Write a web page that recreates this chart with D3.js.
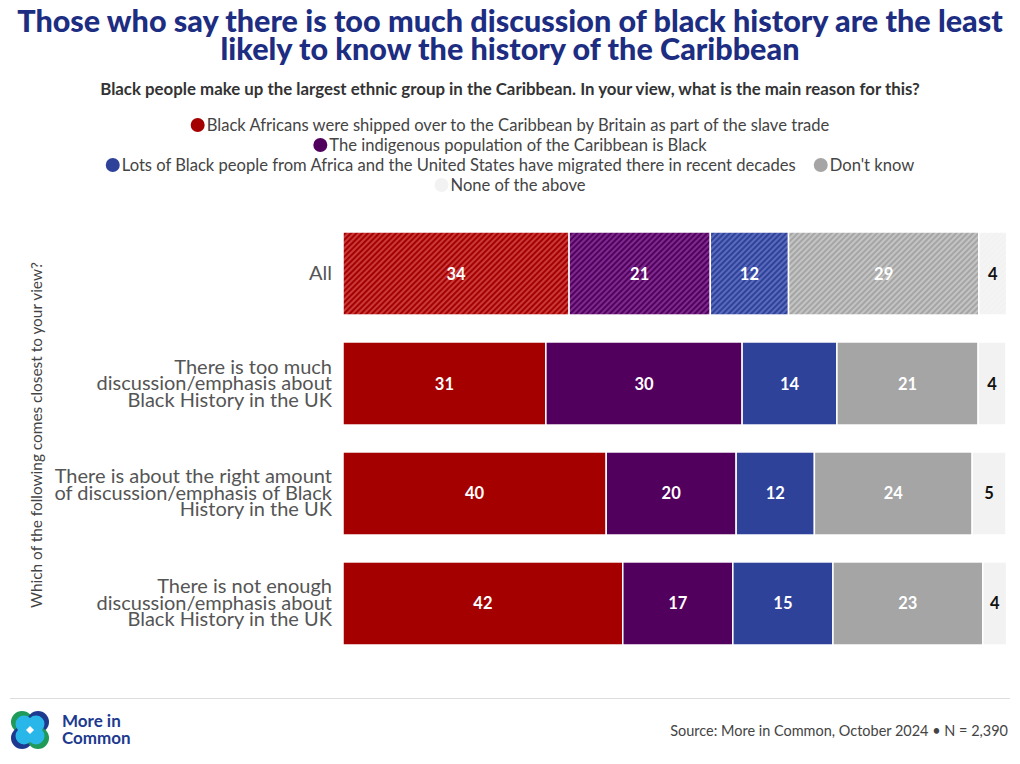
<!DOCTYPE html>
<html><head><meta charset="utf-8">
<script src="https://cdn.jsdelivr.net/npm/d3@7"></script>
<style>body{margin:0;background:#fff}svg{display:block}</style>
</head><body>
<svg id="c" width="1020" height="764"></svg>
<script>
const categories = ["All","There is too much discussion/emphasis about Black History in the UK","There is about the right amount of discussion/emphasis of Black History in the UK","There is not enough discussion/emphasis about Black History in the UK"];
const categoryLines = [["All"],["There is too much","discussion/emphasis about","Black History in the UK"],["There is about the right amount","of discussion/emphasis of Black","History in the UK"],["There is not enough","discussion/emphasis about","Black History in the UK"]];
const seriesNames = ["Black Africans were shipped over to the Caribbean by Britain as part of the slave trade","The indigenous population of the Caribbean is Black","Lots of Black people from Africa and the United States have migrated there in recent decades","Don't know","None of the above"];
const slaveTrade = [34.1,30.6,39.7,42.2];
const indigenous = [21.3,29.6,19.6,16.6];
const migrated = [11.8,14.3,11.8,15.1];
const dontKnow = [28.7,21.3,23.8,22.6];
const noneAbove = [4.2,4.2,5.1,3.6];
const seriesValues = [slaveTrade, indigenous, migrated, dontKnow, noneAbove];
const colors = ["#a50000","#52005e","#2f4299","#a5a5a5","#f2f2f2"];
const hatchBg = ["#c93a3a","#7d2c8e","#5a6bbd","#c4c4c4","#f4f4f4"];
const labelColors = ["#fff","#fff","#fff","#fff","#111"];
const title = ["Those who say there is too much discussion of black history are the least","likely to know the history of the Caribbean"];
const subtitle = "Black people make up the largest ethnic group in the Caribbean. In your view, what is the main reason for this?";
const yTitle = "Which of the following comes closest to your view?";
const source = "Source: More in Common, October 2024 \u2022 N = 2,390";

const svg = d3.select("#c");
const FONT = "Lato, 'Open Sans', sans-serif";
function fit(sel, w){ const n=sel.node(); const fs=parseFloat(sel.attr("font-size")); const m=n.getComputedTextLength(); sel.attr("font-size", fs*w/m); return fs*w/m; }

// defs patterns
const defs = svg.append("defs");
colors.forEach((c,i)=>{
  const p = defs.append("pattern").attr("id","h"+i).attr("patternUnits","userSpaceOnUse")
    .attr("width",4).attr("height",4).attr("patternTransform","rotate(45)");
  p.append("rect").attr("width",4).attr("height",4).attr("fill",hatchBg[i]);
  p.append("rect").attr("width",2).attr("height",4).attr("fill",c);
});

// title
let titleFs = 29;
title.forEach((t,i)=>{
  const s = svg.append("text").attr("x",510).attr("y",32+i*28).attr("text-anchor","middle")
    .attr("font-family",FONT).attr("font-weight",900).attr("font-size",titleFs).attr("fill","#1c2d82").text(t);
  if(i===0) titleFs = fit(s,986);
});
const st = svg.append("text").attr("x",510).attr("y",95).attr("text-anchor","middle")
  .attr("font-family",FONT).attr("font-weight",700).attr("font-size",14).attr("fill","#333").text(subtitle);
fit(st,820);

// legend
const legendRows = [[0],[1],[2,3],[4]];
const probe = svg.append("text").attr("font-family",FONT).attr("font-size",15).text(seriesNames[0]);
const legFs = 15*623/probe.node().getComputedTextLength();
probe.remove();
legendRows.forEach((row,ri)=>{
  const g = svg.append("g");
  let x=0;
  row.forEach((si,k)=>{
    if(k>0) x+=18;
    g.append("circle").attr("cx",x+7).attr("cy",0).attr("r",7).attr("fill",colors[si]);
    const t = g.append("text").attr("x",x+16).attr("y",5.5).attr("font-family",FONT).attr("font-size",legFs)
      .attr("fill","#444").text(seriesNames[si]);
    x += 16 + t.node().getComputedTextLength();
  });
  g.attr("transform",`translate(${510 - x/2},${125+ri*20})`);
});

// scales
const x = d3.scaleLinear().domain([0,100]).range([343,1006]);
const y = d3.scaleBand().domain(categories).range([232,645]).paddingInner(0.245).paddingOuter(0);

categories.forEach((cat,ci)=>{
  let acc=0;
  seriesValues.forEach((vals,si)=>{
    const v = vals[ci];
    const x0 = x(acc), x1 = x(acc+v);
    svg.append("rect").attr("x",x0).attr("y",y(cat)).attr("width",x1-x0).attr("height",y.bandwidth())
      .attr("fill", ci===0 ? `url(#h${si})` : colors[si]).attr("stroke","#fff").attr("stroke-width",1.5);
    svg.append("text").attr("x",(x0+x1)/2).attr("y",y(cat)+y.bandwidth()/2+6).attr("text-anchor","middle")
      .attr("font-family",FONT).attr("font-weight",700).attr("font-size",16.5).attr("fill",labelColors[si])
      .text(Math.round(v));
    acc+=v;
  });
  const lines = categoryLines[ci];
  const cy = y(cat)+y.bandwidth()/2;
  const t = svg.append("text").attr("text-anchor","end").attr("font-family",FONT).attr("font-weight",400)
    .attr("font-size",20).attr("fill","#555");
  lines.forEach((l,li)=>{
    t.append("tspan").attr("x",332).attr("y",cy + (li-(lines.length-1)/2)*16.5 + 6.5).text(l);
  });
});

// y title
const yt = svg.append("text").attr("transform","translate(42,435) rotate(-90)").attr("text-anchor","middle")
  .attr("font-family",FONT).attr("font-size",14).attr("fill","#444").text(yTitle);
fit(yt,346);

// footer
svg.append("line").attr("x1",10).attr("x2",1010).attr("y1",698.5).attr("y2",698.5).attr("stroke","#ddd");
const logo = svg.append("g").attr("transform","translate(30,730)");
[[-8,-8,"#1f9a59"],[8,-8,"#1e3a8f"],[-8,8,"#1e3a8f"],[8,8,"#1f9a59"]].forEach(d=>logo.append("circle").attr("cx",d[0]).attr("cy",d[1]).attr("r",11).attr("fill",d[2]));
[[-6,-6],[6,-6],[-6,6],[6,6]].forEach(d=>logo.append("circle").attr("cx",d[0]).attr("cy",d[1]).attr("r",8.5).attr("fill","#29b6e8"));
logo.append("path").attr("d","M0,-4L4,0L0,4L-4,0Z").attr("fill","#fff");
const brand = svg.append("text").attr("font-family",FONT).attr("font-weight",700).attr("font-size",17).attr("fill","#1d3a8f");
["More in","Common"].forEach((t,i)=>brand.append("tspan").attr("x",62).attr("y",727+i*17).text(t));
const src = svg.append("text").attr("x",1008).attr("y",736).attr("text-anchor","end").attr("font-family",FONT)
  .attr("font-size",14).attr("fill","#444").text(source);
fit(src,338);
</script>
</body></html>
